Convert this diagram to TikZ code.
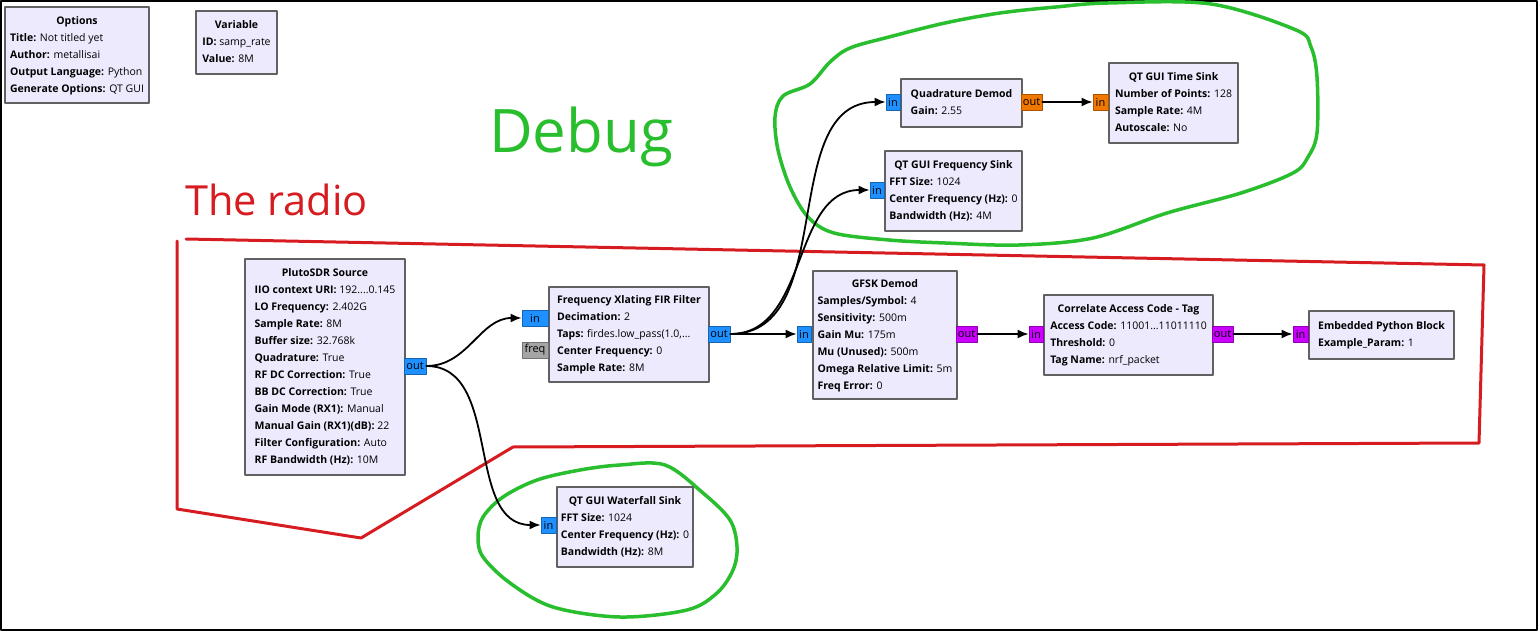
\documentclass[tikz,border=0pt]{standalone}
\usepackage{fontspec}
\setmainfont{Open Sans}
\usetikzlibrary{arrows.meta}

\definecolor{blockfill}{RGB}{238,234,254}
\definecolor{blockline}{RGB}{97,97,97}
\definecolor{complexport}{RGB}{30,144,255}
\definecolor{byteport}{RGB}{204,0,255}
\definecolor{floatport}{RGB}{240,120,0}
\definecolor{msgport}{RGB}{165,165,165}
\definecolor{markgreen}{RGB}{40,190,45}
\definecolor{markred}{RGB}{214,28,32}

\newcommand{\blocktitle}[1]{\multicolumn{1}{@{}c@{}}{\textbf{#1}}}
\newcommand{\param}[2]{\textbf{#1:} #2}

\begin{document}
\begin{tikzpicture}[
    x=1pt,y=-1pt,
    >={Latex[length=11pt,width=9pt]},
    line cap=round,
    line join=round,
    block/.style={draw=blockline,fill=blockfill,line width=2pt,anchor=north west,
      inner sep=0pt,font=\fontsize{10.5}{17}\selectfont},
    port/.style={draw=#1!70!black,fill=#1,line width=0.8pt,inner sep=0pt,
      minimum height=16pt,font=\fontsize{11}{13}\selectfont},
    wire/.style={->,line width=1.8pt},
    radio/.style={markred,line width=3pt},
    debug/.style={markgreen,line width=3.5pt},
]
\useasboundingbox (0,0) rectangle (1539,631);
\draw[line width=2pt] (1,1) rectangle (1537,630);

% hand drawn marks
\draw[radio] (177,241) -- (177,509) -- (361,538) -- (513,447) -- (1479,443)
  -- (1484,265) -- (186,239);
\draw[debug] plot[smooth cycle,tension=0.55] coordinates {
  (775,117) (783,96) (810,84) (830,62) (850,48) (889,37) (945,23) (1000,13)
  (1056,7) (1108,3) (1211,4) (1296,30) (1311,47) (1317,77) (1317,133)
  (1308,157) (1293,173) (1241,193) (1167,213) (1093,238) (1019,245) (945,243)
  (889,240) (834,233) (808,217) (790,187) (778,150)};
\draw[debug] plot[smooth cycle,tension=0.55] coordinates {
  (478,537) (483,517) (503,497) (537,480) (580,470) (620,465) (665,465)
  (703,493) (730,520) (737,547) (733,570) (717,593) (687,610) (620,617)
  (553,607) (510,583) (483,557)};
\node[anchor=base west,text=markgreen,font=\fontsize{60}{60}\selectfont,inner sep=0pt]
  (debugtext) at (489,153) {Debug};
\node[anchor=base west,text=markred,font=\fontsize{41.5}{42}\selectfont,inner sep=0pt]
  (radiotext) at (185,215) {The radio};

% blocks
\node[block,minimum width=144pt,minimum height=96pt] (options) at (4,6) {%
  \begin{tabular}{@{}l@{}}\blocktitle{Options}\\
  \param{Title}{Not titled yet}\\ \param{Author}{metallisai}\\
  \param{Output Language}{Python}\\ \param{Generate Options}{QT GUI}\end{tabular}};
\node[block,minimum width=81pt,minimum height=63pt] (variable) at (195,10) {%
  \begin{tabular}{@{}l@{}}\blocktitle{Variable}\\
  \param{ID}{samp\_rate}\\ \param{Value}{8M}\end{tabular}};
\node[block,minimum width=160pt,minimum height=216pt] (pluto) at (244,258) {%
  \begin{tabular}{@{}l@{}}\blocktitle{PlutoSDR Source}\\
  \param{IIO context URI}{192....0.145}\\ \param{LO Frequency}{2.402G}\\
  \param{Sample Rate}{8M}\\ \param{Buffer size}{32.768k}\\
  \param{Quadrature}{True}\\ \param{RF DC Correction}{True}\\
  \param{BB DC Correction}{True}\\ \param{Gain Mode (RX1)}{Manual}\\
  \param{Manual Gain (RX1)(dB)}{22}\\ \param{Filter Configuration}{Auto}\\
  \param{RF Bandwidth (Hz)}{10M}\end{tabular}};
\node[block,minimum width=160pt,minimum height=95pt] (fir) at (548,286) {%
  \begin{tabular}{@{}l@{}}\blocktitle{Frequency Xlating FIR Filter}\\
  \param{Decimation}{2}\\ \param{Taps}{firdes.low\_pass(1.0,...}\\
  \param{Center Frequency}{0}\\ \param{Sample Rate}{8M}\end{tabular}};
\node[block,minimum width=144pt,minimum height=128pt] (gfsk) at (812,270) {%
  \begin{tabular}{@{}l@{}}\blocktitle{GFSK Demod}\\
  \param{Samples/Symbol}{4}\\ \param{Sensitivity}{500m}\\
  \param{Gain Mu}{175m}\\ \param{Mu (Unused)}{500m}\\
  \param{Omega Relative Limit}{5m}\\ \param{Freq Error}{0}\end{tabular}};
\node[block,minimum width=169pt,minimum height=80pt] (correlate) at (1043,294) {%
  \begin{tabular}{@{}l@{}}\blocktitle{Correlate Access Code - Tag}\\
  \param{Access Code}{11001...11011110}\\ \param{Threshold}{0}\\
  \param{Tag Name}{nrf\_packet}\end{tabular}};
\node[block,minimum width=145pt,minimum height=48pt] (embpy) at (1308,310) {%
  \begin{tabular}{@{}l@{}}\blocktitle{Embedded Python Block}\\
  \param{Example\_Param}{1}\end{tabular}};
\node[block,minimum width=121pt,minimum height=48pt] (quaddemod) at (900,78) {%
  \begin{tabular}{@{}l@{}}\blocktitle{Quadrature Demod}\\
  \param{Gain}{2.55}\end{tabular}};
\node[block,minimum width=129pt,minimum height=80pt] (timesink) at (1108,62) {%
  \begin{tabular}{@{}l@{}}\blocktitle{QT GUI Time Sink}\\
  \param{Number of Points}{128}\\ \param{Sample Rate}{4M}\\
  \param{Autoscale}{No}\end{tabular}};
\node[block,minimum width=137pt,minimum height=80pt] (freqsink) at (884,150) {%
  \begin{tabular}{@{}l@{}}\blocktitle{QT GUI Frequency Sink}\\
  \param{FFT Size}{1024}\\ \param{Center Frequency (Hz)}{0}\\
  \param{Bandwidth (Hz)}{4M}\end{tabular}};
\node[block,minimum width=136pt,minimum height=80pt] (waterfall) at (556,486) {%
  \begin{tabular}{@{}l@{}}\blocktitle{QT GUI Waterfall Sink}\\
  \param{FFT Size}{1024}\\ \param{Center Frequency (Hz)}{0}\\
  \param{Bandwidth (Hz)}{8M}\end{tabular}};

% ports
\node[port=complexport,minimum width=22pt] (pluto-out) at (415,366) {out};
\node[port=complexport,minimum width=26pt] (fir-in) at (535,318) {in};
\node[port=msgport,minimum width=26pt] (fir-freq) at (535,350) {freq};
\node[port=complexport,minimum width=22pt] (fir-out) at (719,334) {out};
\node[port=complexport,minimum width=14pt] (gfsk-in) at (804,334) {in};
\node[port=byteport,minimum width=21pt] (gfsk-out) at (966.5,334) {out};
\node[port=byteport,minimum width=14pt] (corr-in) at (1036,334) {in};
\node[port=byteport,minimum width=21pt] (corr-out) at (1222.5,334) {out};
\node[port=byteport,minimum width=15pt] (emb-in) at (1300.5,334) {in};
\node[port=complexport,minimum width=14pt] (qd-in) at (893,102) {in};
\node[port=floatport,minimum width=21pt] (qd-out) at (1031.5,102) {out};
\node[port=floatport,minimum width=15pt] (ts-in) at (1100.5,102) {in};
\node[port=complexport,minimum width=14pt] (fs-in) at (877,190) {in};
\node[port=complexport,minimum width=15pt] (wf-in) at (548.5,525) {in};

% connections
\draw[wire] (pluto-out.east) to[out=0,in=180] (fir-in.west);
\draw[wire] (pluto-out.east) to[out=0,in=180] (wf-in.west);
\draw[wire] (fir-out.east) -- (gfsk-in.west);
\draw[wire] (fir-out.east) to[out=0,in=180] (qd-in.west);
\draw[wire] (fir-out.east) to[out=0,in=180] (fs-in.west);
\draw[wire] (gfsk-out.east) -- (corr-in.west);
\draw[wire] (corr-out.east) -- (emb-in.west);
\draw[wire] (qd-out.east) -- (ts-in.west);
\end{tikzpicture}
\end{document}
